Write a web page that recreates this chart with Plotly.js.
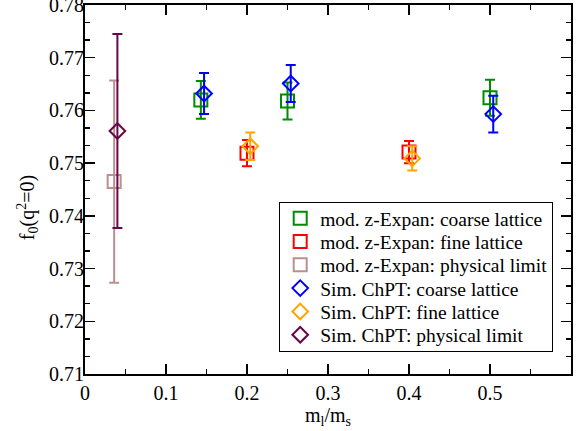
<!DOCTYPE html>
<html>
<head>
<meta charset="utf-8">
<script src="https://cdn.plot.ly/plotly-3.0.1.min.js"></script>
<style>
html,body{margin:0;padding:0;background:#fff;}
#chart{width:583px;height:431px;}
#chart .xtick text, #chart .ytick text, #chart .g-xtitle text, #chart .g-ytitle text { font-family: 'Liberation Serif', 'Times New Roman', serif !important; }
</style>
</head>
<body>
<div id="chart"></div>
<script>
// Data
var seriesNames = [
  "mod. z-Expan: coarse lattice",
  "mod. z-Expan: fine lattice",
  "mod. z-Expan: physical limit",
  "Sim. ChPT: coarse lattice",
  "Sim. ChPT: fine lattice",
  "Sim. ChPT: physical limit"
];
var zCoarseX = [0.143, 0.250, 0.500];
var zCoarseY = [0.7620, 0.7618, 0.7624];
var zCoarseErr = [0.0036, 0.0035, 0.0034];

var zFineX = [0.200, 0.400];
var zFineY = [0.7519, 0.7521];
var zFineErr = [0.0025, 0.0021];

var zPhysX = [0.036];
var zPhysY = [0.7465];
var zPhysErr = [0.0192];

var cCoarseX = [0.147, 0.254, 0.504];
var cCoarseY = [0.7632, 0.7651, 0.7593];
var cCoarseErr = [0.0039, 0.0035, 0.0035];

var cFineX = [0.204, 0.404];
var cFineY = [0.7532, 0.7509];
var cFineErr = [0.0026, 0.0023];

var cPhysX = [0.040];
var cPhysY = [0.7561];
var cPhysErr = [0.0184];

var xTickVals = [0, 0.1, 0.2, 0.3, 0.4, 0.5];
var xTickText = ["0", "0.1", "0.2", "0.3", "0.4", "0.5"];
var yTickVals = [0.71, 0.72, 0.73, 0.74, 0.75, 0.76, 0.77, 0.78];
var yTickText = ["0.71", "0.72", "0.73", "0.74", "0.75", "0.76", "0.77", "0.78"];

var colors = ["#008b00", "#ff0000", "#bc8f8f", "#0000ff", "#ffa500", "#670748"];
var symbols = ["square-open", "square-open", "square-open", "diamond-open", "diamond-open", "diamond-open"];
var sizes = [13, 13, 13, 12, 12, 12];

var xs = [zCoarseX, zFineX, zPhysX, cCoarseX, cFineX, cPhysX];
var ys = [zCoarseY, zFineY, zPhysY, cCoarseY, cFineY, cPhysY];
var es = [zCoarseErr, zFineErr, zPhysErr, cCoarseErr, cFineErr, cPhysErr];

var traces = [];
for (var i = 0; i < 6; i++) {
  traces.push({
    type: "scatter",
    mode: "markers",
    name: seriesNames[i],
    x: xs[i],
    y: ys[i],
    error_y: {type: "data", array: es[i], visible: true, color: colors[i], thickness: 2, width: 5},
    marker: {symbol: symbols[i], size: sizes[i], color: colors[i], line: {color: colors[i], width: 2}}
  });
}

var fam = "'Liberation Serif', 'Times New Roman', serif";
function mkFont(sz) { return {family: fam, size: sz, color: "#000"}; }

var layout = {
  width: 583, height: 431,
  margin: {l: 85, r: 12, t: 5, b: 57},
  paper_bgcolor: "#fff", plot_bgcolor: "#fff",
  font: mkFont(20),
  showlegend: true,
  legend: {
    x: 0.3996, y: 0.466, xanchor: "left", yanchor: "top",
    bordercolor: "#000", borderwidth: 1, bgcolor: "#fff",
    font: mkFont(19.5),
    tracegroupgap: 0
  },
  xaxis: {
    range: [0, 0.6], tickmode: "array", tickvals: xTickVals, ticktext: xTickText,
    showline: true, linewidth: 2, linecolor: "#000", mirror: "ticks",
    ticks: "inside", ticklen: 10, tickwidth: 1.5, tickcolor: "#000",
    minor: {ticks: "inside", ticklen: 5, tickwidth: 1.5, dtick: 0.05, tick0: 0, tickcolor: "#000", showgrid: false},
    showgrid: false, zeroline: false,
    tickfont: mkFont(20), ticklabeloverflow: "allow",
    title: {text: "m<sub>l</sub>/m<sub>s</sub>", font: mkFont(20), standoff: 2}
  },
  yaxis: {
    range: [0.71, 0.78], tickmode: "array", tickvals: yTickVals, ticktext: yTickText,
    showline: true, linewidth: 2, linecolor: "#000", mirror: "ticks",
    ticks: "inside", ticklen: 10, tickwidth: 1.5, tickcolor: "#000",
    minor: {ticks: "inside", ticklen: 5, tickwidth: 1.5, dtick: 0.01/3, tick0: 0.71, tickcolor: "#000", showgrid: false},
    showgrid: false, zeroline: false,
    tickfont: mkFont(20), ticklabeloverflow: "allow",
    title: {text: "f<sub>0</sub>(q<sup>2</sup>=0)", font: mkFont(20), standoff: 4}
  }
};

var gd = document.getElementById("chart");

function applyFixes() {
  // tighten legend row spacing to match reference
  var items = gd.querySelectorAll(".legend .traces");
  var newGap = 23.3, lift = 4;
  if (items.length > 1 && !items[0].getAttribute("data-fixed")) {
    var parse = function (el) {
      var m = /translate\(\s*([-\d.]+)[ ,]+([-\d.]+)\s*\)/.exec(el.getAttribute("transform") || "");
      return m ? [parseFloat(m[1]), parseFloat(m[2])] : [0, 0];
    };
    var p0 = parse(items[0]);
    var p1 = parse(items[items.length - 1]);
    var oldGap = (p1[1] - p0[1]) / (items.length - 1);
    items.forEach(function (el, k) {
      var p = parse(el);
      el.setAttribute("transform", "translate(" + p[0] + "," + (p0[1] - lift + k * newGap) + ")");
      el.setAttribute("data-fixed", "1");
    });
    var bg = gd.querySelector(".legend .bg");
    if (bg) {
      var h = parseFloat(bg.getAttribute("height"));
      bg.setAttribute("height", h - (oldGap - newGap) * (items.length - 1) - 2 * lift);
    }
  }
  // move y tick labels closer to the axis, as in the reference
  gd.querySelectorAll(".ytick text").forEach(function (t) {
    if (t.getAttribute("data-fixed")) return;
    var x = parseFloat(t.getAttribute("x") || "0");
    t.setAttribute("x", x + 5);
    t.setAttribute("data-fixed", "1");
  });
  // shift y title to match reference placement
  var yt = gd.querySelector(".g-ytitle text");
  if (yt && !yt.getAttribute("data-fixed")) {
    var tr = yt.getAttribute("transform") || "";
    yt.setAttribute("transform", "translate(0,18) " + tr);
    yt.setAttribute("data-fixed", "1");
  }
}

Plotly.newPlot(gd, traces, layout, {displayModeBar: false, staticPlot: true}).then(function () {
  applyFixes();
  gd.on("plotly_afterplot", applyFixes);
  setTimeout(applyFixes, 50);
  setTimeout(applyFixes, 300);
});
</script>
</body>
</html>
